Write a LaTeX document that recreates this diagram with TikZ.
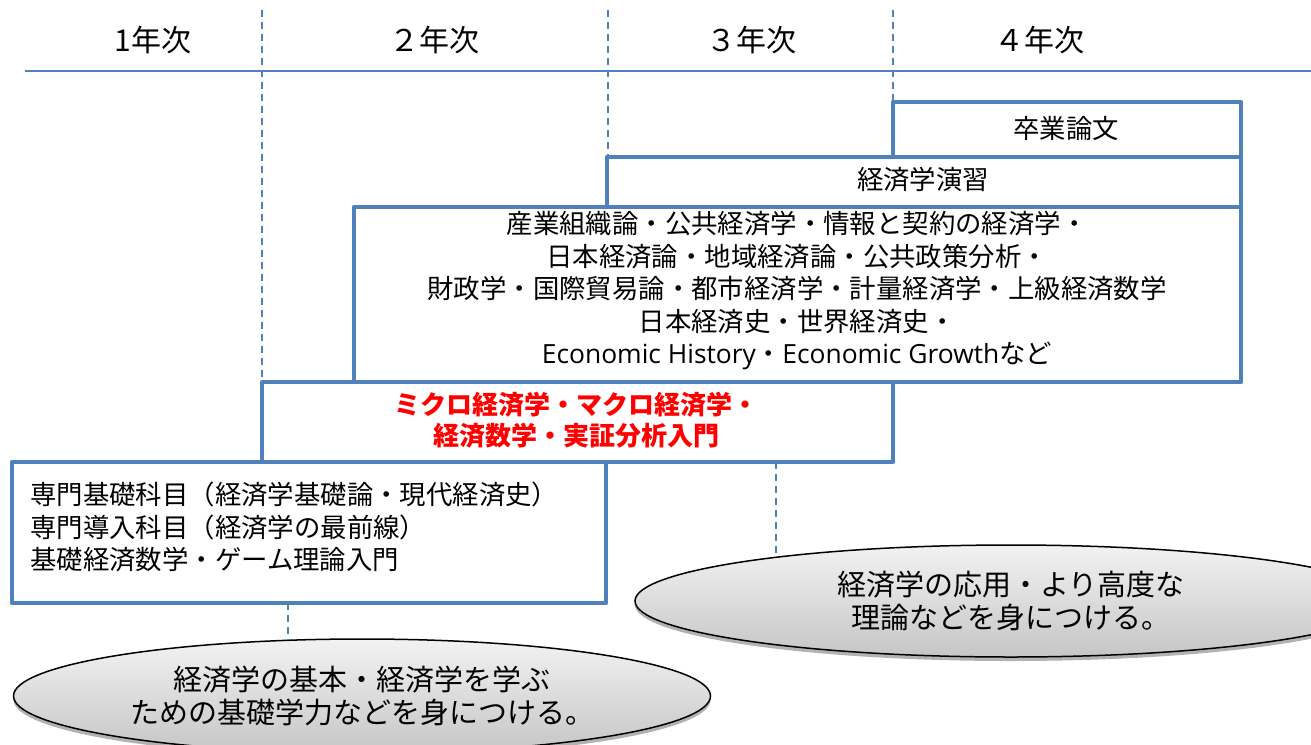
\documentclass[tikz,border=0pt]{standalone}
\usepackage{fontspec}
\setmainfont{Noto Sans CJK JP}
\newfontfamily\latinf{Open Sans}
\usetikzlibrary{shapes.geometric,shadows}
\definecolor{bx}{HTML}{4F81BD}
\definecolor{rd}{HTML}{FF0000}
\tikzset{
  box/.style={draw=bx, line width=4.5pt, rectangle, inner sep=0pt, outer sep=0pt, line join=round, fill=white},
  gridline/.style={draw=bx, line width=1.3pt, dash pattern=on 7pt off 5pt},
  hline/.style={draw=bx, line width=1.6pt},
  hdr/.style={font=\fontsize{30}{34}\selectfont, inner sep=0pt},
  txt/.style={font=\fontsize{26.4}{32.5}\selectfont, align=center, inner sep=0pt},
  redtxt/.style={font=\bfseries\fontsize{26}{31}\selectfont, text=rd, align=center, inner sep=0pt},
  goal/.style={ellipse, draw=black, line width=1.5pt, top color=gray!10, bottom color=gray!45,
    drop shadow={shadow xshift=0pt, shadow yshift=-4pt, opacity=.3, fill=black},
    inner sep=0pt, font=\fontsize{29}{33}\selectfont, align=center},
}
\begin{document}
\begin{tikzpicture}[x=1pt,y=-1pt]
\useasboundingbox (0,0) rectangle (1311,744);
\clip (0,0) rectangle (1311,744);
\fill[white] (0,0) rectangle (1311,744);

% header
\node[hdr] (y1) at (153,40) {1年次};
\node[hdr] (y2) at (434,40) {２年次};
\node[hdr] (y3) at (751,40) {３年次};
\node[hdr] (y4) at (1039,40) {４年次};
\coordinate (hl) at (25,71);
\coordinate (hr) at (1311,71);
\draw[hline] (hl) -- (hr);

% boxes
\node[box, minimum width=594pt, minimum height=141pt] (basic) at (309,532.5) {};
\node[txt, anchor=west, align=left] (basictxt) at (30,527) {専門基礎科目（経済学基礎論・現代経済史）\\専門導入科目（経済学の最前線）\\基礎経済数学・ゲーム理論入門};
\node[box, minimum width=631pt, minimum height=80pt] (core) at (577.5,422) {};
\node[redtxt] (coretxt) at (576,420.5) {ミクロ経済学・マクロ経済学・\\経済数学・実証分析入門};
\node[box, minimum width=887pt, minimum height=175pt] (adv) at (797.5,294.5) {};
\node[txt] (advtxt) at (797,291) {産業組織論・公共経済学・情報と契約の経済学・\\日本経済論・地域経済論・公共政策分析・\\財政学・国際貿易論・都市経済学・計量経済学・上級経済数学\\日本経済史・世界経済史・\\{\latinf Economic History}・{\latinf Economic Growth}など};
\node[box, minimum width=634pt, minimum height=50pt] (sem) at (924,182) {};
\node[txt] (semtxt) at (923,180) {経済学演習};
\node[box, minimum width=348pt, minimum height=55pt] (thesis) at (1067,129.5) {};
\node[txt] (thesistxt) at (1066,128) {卒業論文};

% year grid lines
\coordinate (g1) at (262,10);
\coordinate (g2) at (608,10);
\coordinate (g3) at (893,10);
\draw[gridline] (g1) -- (g1 |- core.north);
\draw[gridline] (g2) -- (g2 |- sem.north);
\draw[gridline] (g3) -- (g3 |- thesis.north);

% goals
\node[goal, minimum width=752pt, minimum height=112pt] (goal2) at (1011,601) {経済学の応用・より高度な\\理論などを身につける。};
\node[goal, minimum width=697pt, minimum height=114pt] (goal1) at (362,696) {経済学の基本・経済学を学ぶ\\ための基礎学力などを身につける。};

\coordinate (c1) at (776,556);
\coordinate (c2) at (288,640);
\draw[gridline] (c1 |- core.south) -- (c1);
\draw[gridline] (c2 |- basic.south) -- (c2);
\end{tikzpicture}
\end{document}
